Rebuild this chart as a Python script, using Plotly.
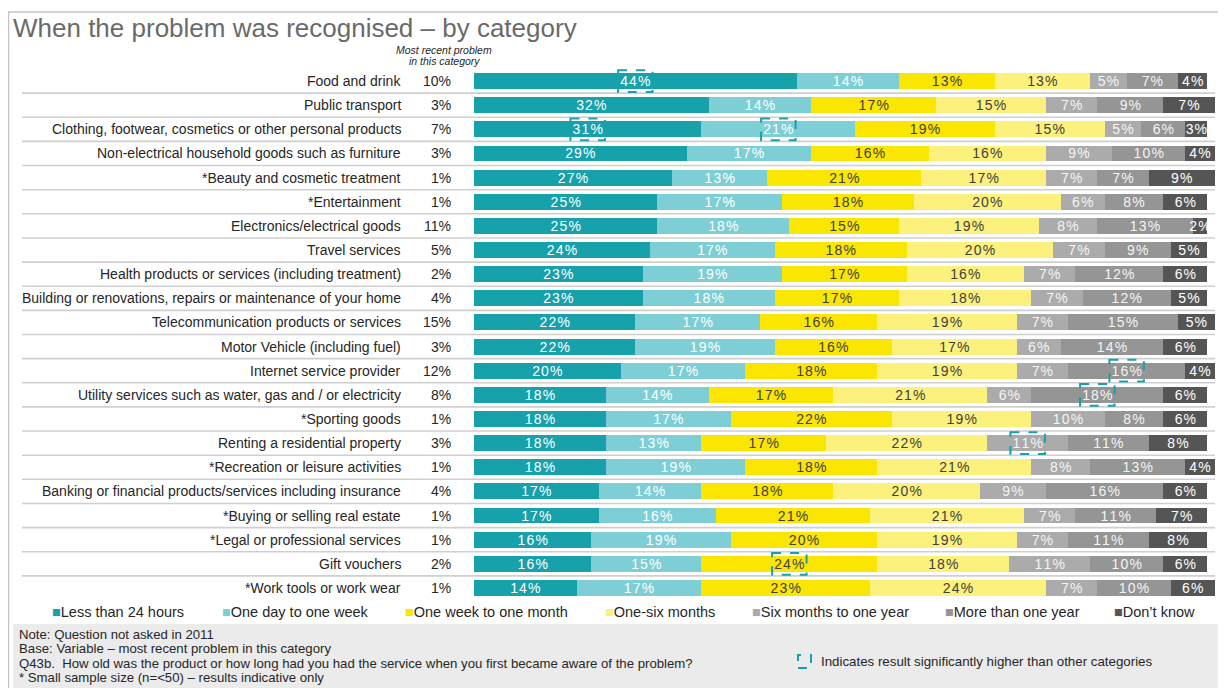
import plotly.graph_objects as go

categories = [
    "Food and drink",
    "Public transport",
    "Clothing, footwear, cosmetics or other personal products",
    "Non-electrical household goods such as furniture",
    "*Beauty and cosmetic treatment",
    "*Entertainment",
    "Electronics/electrical goods",
    "Travel services",
    "Health products or services (including treatment)",
    "Building or renovations, repairs or maintenance of your home",
    "Telecommunication products or services",
    "Motor Vehicle (including fuel)",
    "Internet service provider",
    "Utility services such as water, gas and / or electricity",
    "*Sporting goods",
    "Renting a residential property",
    "*Recreation or leisure activities",
    "Banking or financial products/services including insurance",
    "*Buying or selling real estate",
    "*Legal or professional services",
    "Gift vouchers",
    "*Work tools or work wear",
]
recent_problem = [10, 3, 7, 3, 1, 1, 11, 5, 2, 4, 15, 3, 12, 8, 1, 3, 1, 4, 1, 1, 2, 1]

less_24h = [44, 32, 31, 29, 27, 25, 25, 24, 23, 23, 22, 22, 20, 18, 18, 18, 18, 17, 17, 16, 16, 14]
day_week = [14, 14, 21, 17, 13, 17, 18, 17, 19, 18, 17, 19, 17, 14, 17, 13, 19, 14, 16, 19, 15, 17]
week_month = [13, 17, 19, 16, 21, 18, 15, 18, 17, 17, 16, 16, 18, 17, 22, 17, 18, 18, 21, 20, 24, 23]
one_six_months = [13, 15, 15, 16, 17, 20, 19, 20, 16, 18, 19, 17, 19, 21, 19, 22, 21, 20, 21, 19, 18, 24]
six_months_year = [5, 7, 5, 9, 7, 6, 8, 7, 7, 7, 7, 6, 7, 6, 10, 11, 8, 9, 7, 7, 11, 7]
over_year = [7, 9, 6, 10, 7, 8, 13, 9, 12, 12, 15, 14, 16, 18, 8, 11, 13, 16, 11, 11, 10, 10]
dont_know = [4, 7, 3, 4, 9, 6, 2, 5, 6, 5, 5, 6, 4, 6, 6, 8, 4, 6, 7, 8, 6, 6]

band_names = ["Less than 24 hours", "One day to one week", "One week to one month",
              "One-six months", "Six months to one year", "More than one year", "Don\u2019t know"]
band_values = [less_24h, day_week, week_month, one_six_months, six_months_year, over_year, dont_know]
band_colors = ["#17a1ab", "#7ecfd5", "#fae600", "#fbf17c", "#ababab", "#959595", "#555555"]
text_colors = ["white", "white", "#404040", "#404040", "#f4f4f4", "#f4f4f4", "white"]

# (category, band index) results significantly higher than other categories
significant = [
    ("Food and drink", 0),
    ("Clothing, footwear, cosmetics or other personal products", 0),
    ("Clothing, footwear, cosmetics or other personal products", 1),
    ("Internet service provider", 5),
    ("Utility services such as water, gas and / or electricity", 5),
    ("Renting a residential property", 4),
    ("Gift vouchers", 2),
]

FONT = "Liberation Sans, Arial, sans-serif"
OFF = 8  # page body margin
W, H = 1226 - OFF, 688 - OFF
L, R, T, B = 474 - OFF, 4, 69 - OFF, 88
PW, PH = W - L - R, H - T - B


# helpers: convert reference-page pixels to paper coords
def px(x):
    return (x - OFF - L) / PW


def py(y):
    return (H - B - (y - OFF)) / PH


def spaced(v):
    return "\u200a".join(f"{v}%")


fig = go.Figure()
for name, vals, col, tcol in zip(band_names, band_values, band_colors, text_colors):
    fig.add_trace(go.Bar(
        x=vals, y=categories, orientation="h", name=name,
        marker=dict(color=col, line=dict(width=0)),
        width=0.66,
        text=[spaced(v) for v in vals],
        textposition="inside", insidetextanchor="middle", textangle=0,
        textfont=dict(color=tcol, size=14, family=FONT),
        cliponaxis=False,
        showlegend=False))

shapes = []
annotations = []

# frame and footer box
shapes.append(dict(type="line", xref="paper", yref="paper", x0=px(8), x1=px(1226), y0=py(12), y1=py(12),
                   line=dict(color="#c4c4c4", width=1.5)))
shapes.append(dict(type="line", xref="paper", yref="paper", x0=px(8.5), x1=px(8.5), y0=py(12), y1=py(688),
                   line=dict(color="#c4c4c4", width=1.5)))
shapes.append(dict(type="rect", xref="paper", yref="paper", x0=px(13), x1=px(1226), y0=py(624), y1=py(688),
                   fillcolor="#ebebeb", line=dict(width=0), layer="below"))

# row separators
for i in range(len(categories) - 1):
    shapes.append(dict(type="line", xref="paper", yref="y", x0=px(22), x1=px(1215),
                       y0=i + 0.5, y1=i + 0.5, line=dict(color="#cfcfcf", width=1.6), layer="below"))

# significance boxes
for cat, band in significant:
    row = categories.index(cat)
    start = sum(band_values[b][row] for b in range(band))
    mid = start + band_values[band][row] / 2
    shapes.append(dict(type="rect", xref="x", yref="y", x0=mid - 2.35, x1=mid + 2.35,
                       y0=row - 0.45, y1=row + 0.45,
                       line=dict(color="#17a1ab", width=2, dash="dash"), fillcolor="rgba(0,0,0,0)"))

# category labels and share column
for cat, share in zip(categories, recent_problem):
    annotations.append(dict(xref="paper", yref="y", x=0, y=cat, xshift=-71, xanchor="right",
                            text=cat, showarrow=False, font=dict(size=14, color="#262626", family=FONT)))
    annotations.append(dict(xref="paper", yref="y", x=0, y=cat, xshift=-21, xanchor="right",
                            text=f"{share}%", showarrow=False, font=dict(size=14, color="#262626", family=FONT)))

for line_y, line_text in [(50.5, "Most recent problem"), (61, "in this category")]:
    annotations.append(dict(xref="paper", yref="paper", x=px(444), y=py(line_y), xanchor="center",
                            yanchor="middle", text=f"<i>{line_text}</i>", showarrow=False,
                            font=dict(size=10.5, color="#262626", family=FONT)))

# title
annotations.append(dict(xref="paper", yref="paper", x=px(11), y=py(28), xanchor="left", yanchor="middle",
                        text="When the problem was recognised \u2013 by category", showarrow=False,
                        font=dict(size=26, color="#6a6a6a", family=FONT)))

# legend
legend_x = [50, 220, 403, 603, 750, 943, 1112]
for lx, name, col in zip(legend_x, band_names, band_colors):
    annotations.append(dict(xref="paper", yref="paper", x=px(lx), y=py(612), xanchor="left", yanchor="middle",
                            text=f"<span style='color:{col}'>\u25a0</span>{name}", showarrow=False,
                            font=dict(size=14.5, color="#262626", family=FONT)))

# footer notes
notes = [
    "Note: Question not asked in 2011",
    "Base: Variable \u2013 most recent problem in this category",
    "Q43b.  How old was the product or how long had you had the service when you first became aware of the problem?",
    "* Small sample size (n=<50) \u2013 results indicative only",
]
for k, note in enumerate(notes):
    annotations.append(dict(xref="paper", yref="paper", x=px(17), y=py(634 + k * 14.5), xanchor="left",
                            yanchor="middle", text=note, showarrow=False,
                            font=dict(size=13.2, color="#262626", family=FONT)))

shapes.append(dict(type="rect", xref="paper", yref="paper", x0=px(798), x1=px(811), y0=py(668), y1=py(655),
                   line=dict(color="#17a1ab", width=2, dash="dash"), fillcolor="rgba(0,0,0,0)"))
annotations.append(dict(xref="paper", yref="paper", x=px(819), y=py(661), xanchor="left", yanchor="middle",
                        text="Indicates result significantly higher than other categories", showarrow=False,
                        font=dict(size=13.3, color="#262626", family=FONT)))

fig.update_layout(
    width=W, height=H,
    margin=dict(l=L, r=R, t=T, b=B),
    barmode="stack",
    bargap=0.34,
    plot_bgcolor="white", paper_bgcolor="white",
    xaxis=dict(range=[0, 102], visible=False, fixedrange=True),
    yaxis=dict(type="category", autorange="reversed", visible=False, fixedrange=True),
    uniformtext=dict(minsize=13, mode="show"),
    shapes=shapes,
    annotations=annotations,
    font=dict(family=FONT),
)

fig.write_html("out.html")
